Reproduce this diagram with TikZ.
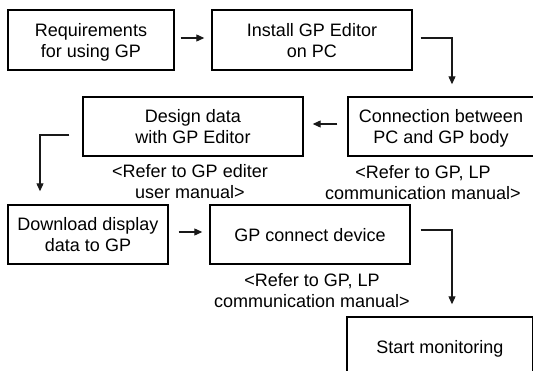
\documentclass[tikz,border=0pt]{standalone}
\usepackage{fontspec}
\setmainfont{Liberation Sans}
\usetikzlibrary{arrows.meta}
\begin{document}
\begin{tikzpicture}[x=1pt,y=-1pt,
  box/.style={draw=black, line width=1.4pt, align=center, inner sep=0pt, text depth=0pt,
    font=\fontsize{18}{21}\selectfont, text=black},
  lbl/.style={align=center, inner sep=0pt, font=\fontsize{18}{21}\selectfont, text=black},
  arr/.style={draw=black!90, line width=1.1pt, -{Triangle[length=8pt,width=7pt]}}]
\useasboundingbox (0,0) rectangle (533,370);
\clip (0,0) rectangle (533,370);
\node[box, minimum width=166pt, minimum height=60pt] (r1) at (91,40) {Requirements\\for using GP};
\node[box, minimum width=200pt, minimum height=60pt] (r2) at (312,40) {Install GP Editor\\on PC};
\node[box, minimum width=186pt, minimum height=59pt] (r3) at (441,126.5) {Connection between\\PC and GP body};
\node[box, minimum width=220pt, minimum height=59pt] (d) at (193,126.5) {Design data\\with GP Editor};
\node[box, minimum width=160pt, minimum height=59pt] (dl) at (88,234.5) {Download display\\data to GP};
\node[box, minimum width=200pt, minimum height=59pt] (gc) at (310,234.5) {GP connect device};
\node[box, minimum width=186pt, minimum height=60pt] (sm) at (440,347) {Start monitoring};
\node[lbl] (l1) at (190,182) {<Refer to GP editer\\user manual>};
\node[lbl] (l2) at (423,182.5) {<Refer to GP, LP\\communication manual>};
\node[lbl] (l3) at (312,291) {<Refer to GP, LP\\communication manual>};
% connectors
\coordinate (c1) at (452,38);
\coordinate (e1) at ([yshift=12pt]r3.north);
\coordinate (c2) at (40,135);
\coordinate (e2) at ([yshift=13pt]dl.north);
\coordinate (c3) at (452,230);
\coordinate (e3) at ([yshift=12pt]sm.north);
\draw[arr] ([xshift=6pt,yshift=2pt]r1.east) -- ([xshift=-7pt,yshift=2pt]r2.west);
\draw[arr] ([xshift=8pt,yshift=2pt]r2.east) -- (c1) -- (c1 |- e1);
\draw[arr] ([xshift=-10pt,yshift=2.5pt]r3.west) -- ([xshift=9pt,yshift=2.5pt]d.east);
\draw[arr] ([xshift=-13pt,yshift=-8.5pt]d.west) -- (c2) -- (c2 |- e2);
\draw[arr] ([xshift=10pt,yshift=2.5pt]dl.east) -- ([xshift=-7pt,yshift=2.5pt]gc.west);
\draw[arr] ([xshift=10pt,yshift=4.5pt]gc.east) -- (c3) -- (c3 |- e3);
\end{tikzpicture}
\end{document}
